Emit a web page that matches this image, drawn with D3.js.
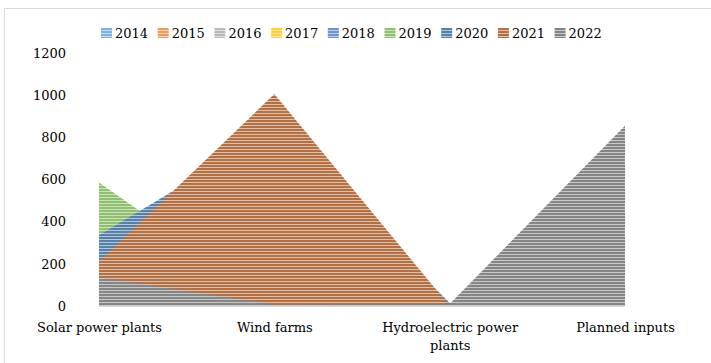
<!DOCTYPE html>
<html>
<head>
<meta charset="utf-8">
<script src="https://cdn.jsdelivr.net/npm/d3@7"></script>
<style>
  html, body { margin: 0; padding: 0; background: #fff; }
  svg { display: block; }
</style>
</head>
<body>
<svg id="chart" width="711" height="363"></svg>
<script>
// ---- data ----
const categories = ["Solar power plants", "Wind farms", "Hydroelectric power plants", "Planned inputs"];
const years = ["2014", "2015", "2016", "2017", "2018", "2019", "2020", "2021", "2022"];
const colors = ["#5B9BD5", "#ED7D31", "#A5A5A5", "#FFC000", "#4472C4", "#70AD47", "#255E91", "#9E480E", "#636363"];
const v2014 = [0, 0, 0, 0];
const v2015 = [0, 0, 0, 0];
const v2016 = [0, 0, 0, 0];
const v2017 = [0, 0, 0, 0];
const v2018 = [0, 0, 0, 0];
const v2019 = [586, 5, 0, 0];
const v2020 = [336, 832, 15, 0];
const v2021 = [209, 1005, 0, 0];
const v2022 = [135, 5, 10, 855];
const yTicks = [0, 200, 400, 600, 800, 1000, 1200];

const seriesValues = [v2014, v2015, v2016, v2017, v2018, v2019, v2020, v2021, v2022];
const series = years.map((y, i) => ({ year: y, color: colors[i], values: seriesValues[i] }));

const FONT = "'DejaVu Serif', serif";
const FS = 13;
const svg = d3.select("#chart");

// frame
svg.append("rect").attr("x", 4.5).attr("y", 8.5).attr("width", 730).attr("height", 380)
  .attr("fill", "#fff").attr("stroke", "#d9d9d9").attr("stroke-width", 1);

// patterns (narrow horizontal stripes)
const defs = svg.append("defs");
series.forEach((s, i) => {
  const p = defs.append("pattern").attr("id", "pat" + i)
    .attr("patternUnits", "userSpaceOnUse").attr("width", 8).attr("height", 3);
  const light = d3.interpolateRgb(s.color, "#ffffff")(0.65);
  const dark = d3.interpolateRgb(s.color, "#ffffff")(0.22);
  p.append("rect").attr("width", 8).attr("height", 3).attr("fill", light);
  p.append("rect").attr("width", 8).attr("height", 2).attr("fill", dark);
});

// scales
const x = d3.scalePoint().domain(categories).range([99, 625]);
const y = d3.scaleLinear().domain([0, 1200]).range([306, 53]);

// areas
const area = d3.area()
  .x((d, i) => x(categories[i]))
  .y0(y(0))
  .y1(d => y(d));

svg.append("g").selectAll("path").data(series).join("path")
  .attr("d", d => area(d.values))
  .attr("fill", (d, i) => `url(#pat${i})`);

// horizontal axis line
svg.append("line").attr("x1", x(categories[0])).attr("x2", x(categories[3]))
  .attr("y1", y(0) + 0.5).attr("y2", y(0) + 0.5).attr("stroke", "#d9d9d9");

// y axis
const yAxis = d3.axisLeft(y).tickValues(yTicks).tickSize(0).tickPadding(0).tickFormat(d3.format("d"));
const gy = svg.append("g").attr("transform", "translate(66,0)").call(yAxis)
  .attr("font-family", FONT).attr("font-size", FS);
gy.select(".domain").remove();
gy.selectAll("text").attr("fill", "#000");

// x axis labels
const xAxis = d3.axisBottom(x).tickSize(0).tickPadding(0).tickFormat("");
const gx = svg.append("g").attr("transform", `translate(0,${y(0)})`).call(xAxis)
  .attr("font-family", FONT).attr("font-size", FS);
gx.select(".domain").remove();
const xLabelLines = {
  "Solar power plants": ["Solar power plants"],
  "Wind farms": ["Wind farms"],
  "Hydroelectric power plants": ["Hydroelectric power", "plants"],
  "Planned inputs": ["Planned inputs"]
};
gx.selectAll(".tick").each(function(d) {
  const t = d3.select(this).append("text")
    .attr("text-anchor", "middle").attr("fill", "#000");
  xLabelLines[d].forEach((line, k) => {
    t.append("tspan").attr("x", 0).attr("y", 26 + k * 18).text(line);
  });
});

// legend
const leg = svg.append("g").attr("transform", "translate(101,28)")
  .attr("font-family", FONT).attr("font-size", FS);
const items = leg.selectAll("g").data(series).join("g")
  .attr("transform", (d, i) => `translate(${i * 56.7},0)`);
items.append("rect").attr("width", 11).attr("height", 10).attr("y", 0)
  .attr("fill", (d, i) => `url(#pat${i})`);
items.append("text").attr("x", 14).attr("y", 10).text(d => d.year);
</script>
</body>
</html>
